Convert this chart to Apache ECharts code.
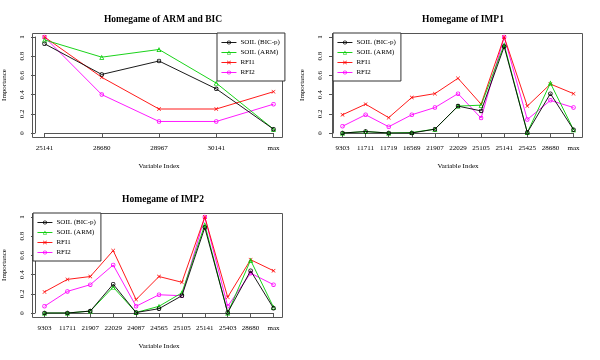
<!DOCTYPE html>
<html><head><meta charset="utf-8">
<script src="https://cdn.jsdelivr.net/npm/echarts@6/dist/echarts.min.js"></script>
<style>html,body{margin:0;padding:0;background:#fff}#c{width:600px;height:360px}</style>
</head><body><div id="c"></div>
<script>
// ---- data ----
const seriesNames = ['SOIL (BIC-p)', 'SOIL (ARM)', 'RFI1', 'RFI2'];
const yTicks = [0, 0.2, 0.4, 0.6, 0.8, 1];

const cats1 = ['25141', '28680', '28967', '30141', 'max'];
const bic1  = [0.93, 0.61, 0.75, 0.46, 0.04];
const arm1  = [0.97, 0.79, 0.87, 0.52, 0.04];
const rfi1a = [1.00, 0.58, 0.25, 0.25, 0.43];
const rfi2a = [1.00, 0.40, 0.12, 0.12, 0.30];

const cats2 = ['9303', '11711', '11719', '16569', '21907', '22029', '25105', '25141', '25425', '28680', 'max'];
const bic2  = [0.00, 0.015, 0.00, 0.00, 0.04, 0.28, 0.23, 0.90, 0.005, 0.41, 0.035];
const arm2  = [0.00, 0.015, 0.00, 0.005, 0.04, 0.28, 0.29, 0.92, 0.005, 0.52, 0.035];
const rfi1b = [0.19, 0.30, 0.16, 0.37, 0.41, 0.57, 0.30, 1.00, 0.28, 0.51, 0.41];
const rfi2b = [0.07, 0.19, 0.065, 0.19, 0.265, 0.41, 0.155, 1.00, 0.14, 0.34, 0.265];

const cats3 = ['9303', '11711', '21907', '22029', '24087', '24565', '25105', '25141', '25403', '28680', 'max'];
const bic3  = [0.00, 0.00, 0.02, 0.30, 0.005, 0.045, 0.18, 0.89, 0.005, 0.44, 0.05];
const arm3  = [0.00, 0.00, 0.02, 0.27, 0.005, 0.07, 0.21, 0.92, 0.00, 0.55, 0.06];
const rfi1c = [0.22, 0.35, 0.38, 0.65, 0.14, 0.38, 0.32, 1.00, 0.165, 0.555, 0.44];
const rfi2c = [0.07, 0.225, 0.295, 0.50, 0.07, 0.19, 0.18, 1.00, 0.07, 0.415, 0.295];

const titles = ['Homegame of ARM and BIC', 'Homegame of IMP1', 'Homegame of IMP2'];

// ---- styling ----
const FONT = '"Liberation Serif", "DejaVu Serif", serif';
const colors = ['#000000', '#00cd00', '#ff0000', '#ff00ff'];
const ringPath = 'path://M5,0A5,5 0 1,1 5,10A5,5 0 1,1 5,0Z M5,1.8A3.2,3.2 0 1,0 5,8.2A3.2,3.2 0 1,0 5,1.8Z';
const triPath = 'path://M5,0L10,9L0,9Z M5,3L2.3,7.8L7.7,7.8Z';
const xPath = 'path://M0,1L1,0L5,4L9,0L10,1L6,5L10,9L9,10L5,6L1,10L0,9L4,5Z';
const symbols = [ringPath, triPath, xPath, ringPath];
const symSizes = [4.5, 5, 4, 4.5];

const panels = [
  {cats: cats1, data: [bic1, arm1, rfi1a, rfi2a], ox: 0,   oy: 0,   legendLeft: 217},
  {cats: cats2, data: [bic2, arm2, rfi1b, rfi2b], ox: 300, oy: 0,   legendLeft: 333},
  {cats: cats3, data: [bic3, arm3, rfi1c, rfi2c], ox: 0,   oy: 180, legendLeft: 33}
];

const option = {
  animation: false,
  backgroundColor: '#fff',
  title: [], grid: [], xAxis: [], yAxis: [], series: [], legend: [], graphic: []
};

panels.forEach((p, i) => {
  option.title.push({
    text: titles[i], left: p.ox + 158, top: p.oy + 10, textAlign: 'center',
    textStyle: {fontFamily: FONT, fontSize: 9.5, fontWeight: 'bold', color: '#000'}
  });
  option.grid.push({left: p.ox + 42.5, top: p.oy + 37, width: 231, height: 96});
  option.xAxis.push({
    type: 'category', gridIndex: i, data: p.cats, boundaryGap: false, offset: 4,
    name: 'Variable Index', nameLocation: 'middle', nameGap: 26,
    nameTextStyle: {fontFamily: FONT, fontSize: 7, color: '#000'},
    axisLine: {lineStyle: {color: '#555', width: 1}},
    axisTick: {length: 4, lineStyle: {color: '#555'}},
    axisLabel: {fontFamily: FONT, fontSize: 7, color: '#000', margin: 8, interval: 0},
    splitLine: {show: false}
  });
  option.yAxis.push({
    type: 'value', gridIndex: i, min: 0, max: 1, interval: 0.2, offset: 9.5,
    name: 'Importance', nameLocation: 'middle', nameGap: 27,
    nameTextStyle: {fontFamily: FONT, fontSize: 7, color: '#000'},
    axisLine: {show: true, lineStyle: {color: '#555', width: 1}},
    axisTick: {show: true, length: 4, lineStyle: {color: '#555'}},
    axisLabel: {fontFamily: FONT, fontSize: 7, color: '#000', margin: 9, rotate: 90,
      formatter: v => yTicks.indexOf(Math.round(v * 10) / 10) >= 0 ? String(Math.round(v * 10) / 10) : ''},
    splitLine: {show: false}
  });
  seriesNames.forEach((n, k) => {
    option.series.push({
      type: 'line', name: n, xAxisIndex: i, yAxisIndex: i, data: p.data[k],
      symbol: symbols[k], symbolSize: symSizes[k], showAllSymbol: true,
      lineStyle: {color: colors[k], width: 0.9},
      itemStyle: {color: colors[k], borderWidth: 0},
      z: 10 - k
    });
  });
  option.legend.push({
    data: seriesNames, orient: 'vertical', left: p.legendLeft, top: p.oy + 33,
    padding: [6, 5, 5, 4], itemWidth: 15, itemHeight: 5, itemGap: 3,
    borderColor: '#333', borderWidth: 1, backgroundColor: '#fff',
    lineStyle: {width: 0.9},
    itemStyle: {borderWidth: 0},
    textStyle: {fontFamily: FONT, fontSize: 7, color: '#000', padding: [0, 0, 0, -1]},
    selectedMode: false, z: 20
  });
  option.graphic.push({
    type: 'rect', shape: {x: p.ox + 32.5, y: p.oy + 33.5, width: 250, height: 104},
    style: {fill: 'none', stroke: '#555', lineWidth: 1}, silent: true, z: 5
  });
});

const chart = echarts.init(document.getElementById('c'), null, {renderer: 'canvas'});
chart.setOption(option);
</script></body></html>
